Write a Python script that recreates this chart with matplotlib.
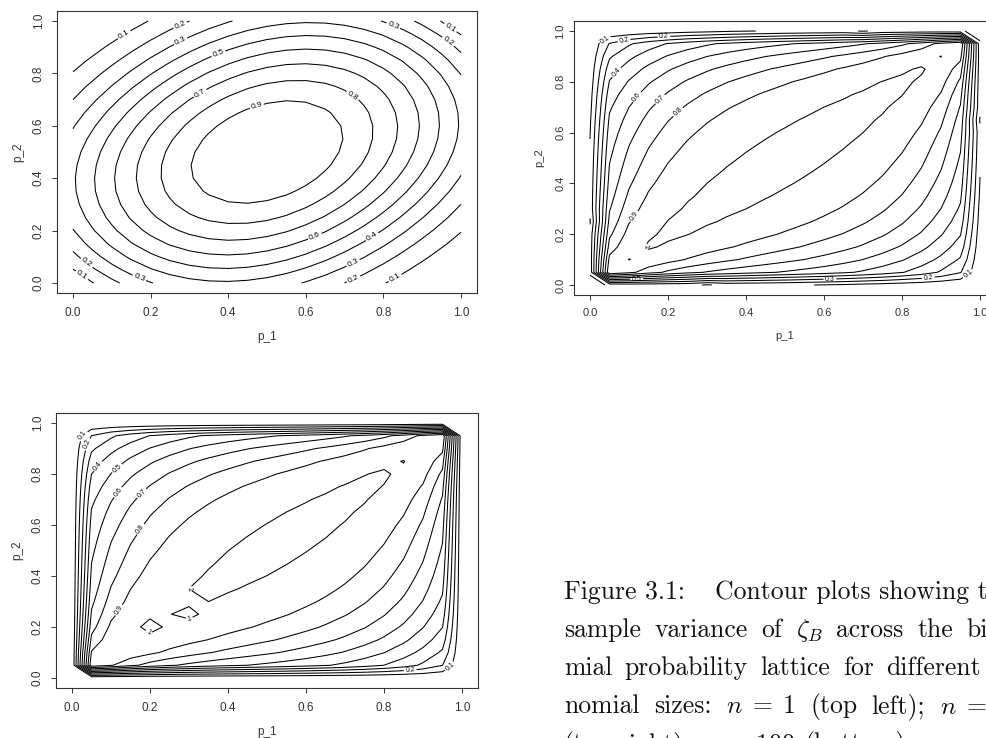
import numpy as np
import matplotlib
matplotlib.use("Agg")
import matplotlib.pyplot as plt

plt.rcParams['font.family'] = ['Liberation Sans', 'DejaVu Sans']
plt.rcParams['mathtext.fontset'] = 'cm'

W, H, DPI = 987, 738, 100

# ---------------- data ----------------
levels_n1 = [0.1, 0.2, 0.3, 0.4, 0.5, 0.6, 0.7, 0.8, 0.9]
levels_n10 = [0.1, 0.2, 0.3, 0.4, 0.5, 0.6, 0.7, 0.8, 0.9, 1.0]
levels_n100 = [0.1, 0.2, 0.3, 0.4, 0.5, 0.6, 0.7, 0.8, 0.9, 1.0]
tick_values = [0.0, 0.2, 0.4, 0.6, 0.8, 1.0]
tick_labels = ["0.0", "0.2", "0.4", "0.6", "0.8", "1.0"]
grid_p = np.linspace(0.0, 1.0, 21)          # probability lattice (step 0.05)

# top-left panel (n = 1): points read on the drawn contours (p_1, p_2, level)
n1_p1 = [0.026, 0.051, 0.09, 0.237, 0.276, 0.344,
         0.091, 0.14, 0.175, 0.245, 0.29, 0.39,
         0.018, 0.065, 0.113, 0.165, 0.23, 0.306,
         0.0, 0.0, 0.0, 0.0, 0.0, 0.0,
         0.129, 0.276, 0.276, 0.374, 0.327, 0.474, 0.722, 0.624, 0.773,
         0.722, 0.722, 0.83, 0.031, 0.023, 0.172, 0.5]
n1_p2 = [0.026, 0.051, 0.09, 0.237, 0.276, 0.344,
         0.909, 0.86, 0.825, 0.755, 0.71, 0.61,
         0.5, 0.5, 0.5, 0.5, 0.5, 0.5,
         0.056, 0.115, 0.22, 0.565, 0.70, 0.81,
         0.954, 0.985, 0.927, 0.878, 0.725, 0.672, 0.718, 0.176, 0.172,
         0.076, 0.019, 0.019, 0.069, 0.03, 0.024, 0.5]
n1_val = [0.1, 0.2, 0.3, 0.7, 0.8, 0.9,
          0.1, 0.2, 0.3, 0.5, 0.7, 0.9,
          0.4, 0.5, 0.6, 0.7, 0.8, 0.9,
          0.1, 0.2, 0.3, 0.3, 0.2, 0.1,
          0.1, 0.2, 0.3, 0.5, 0.7, 0.9, 0.8, 0.6, 0.4,
          0.3, 0.2, 0.1, 0.2, 0.1, 0.3, 0.99]

# n = 10 / n = 100 panels: variance-ratio surface parameters
n10_bias = (0.016, 0.50, 0.42)     # amplitude, centre, half-width of the >1 ridge
n100_bias = (0.012, 0.57, 0.30)
shrink_slope = 2.6                 # extra drop near the corners

# n = 10 lattice edges (values at p = 0, 0.05, ..., 1 along each side)
n10_left = [0, 0.13, 0.14, 0.14, 0.135, 0.09, 0.13, 0.13, 0.125, 0.12, 0.115,
            0.105, 0.095, 0.085, 0.07, 0.06, 0.045, 0.035, 0.02, 0.01, 0]      # p_1 = 0
n10_bottom = [0, 0.13, 0.14, 0.14, 0.135, 0.13, 0.09, 0.13, 0.125, 0.12, 0.115,
              0.105, 0.095, 0.085, 0.07, 0.06, 0.045, 0.035, 0.02, 0.01, 0]    # p_2 = 0
n10_right = [0, 0.01, 0.02, 0.035, 0.045, 0.06, 0.07, 0.085, 0.095, 0.105, 0.115,
             0.12, 0.125, 0.09, 0.13, 0.13, 0.135, 0.14, 0.14, 0.13, 0]        # p_1 = 1
n10_top = [0, 0.01, 0.02, 0.035, 0.045, 0.06, 0.07, 0.085, 0.095, 0.105, 0.115,
           0.12, 0.125, 0.13, 0.09, 0.13, 0.135, 0.14, 0.14, 0.13, 0]          # p_2 = 1

# small closed islands / dips seen in the n = 100 panel: (p_1, p_2, value)
n100_spots = [(0.20, 0.20, 1.02), (0.30, 0.25, 1.015), (0.30, 0.30, 0.99)]

# contour label positions (p_1, p_2)
n1_lab = [(0.129, 0.954), (0.276, 0.985), (0.276, 0.927), (0.374, 0.878),
          (0.327, 0.725), (0.474, 0.672), (0.722, 0.718), (0.825, 0.981),
          (0.972, 0.973), (0.966, 0.92), (0.624, 0.176), (0.773, 0.172),
          (0.722, 0.076), (0.722, 0.019), (0.83, 0.019), (0.031, 0.069),
          (0.023, 0.03), (0.172, 0.024)]
n10_lab = [(0.036, 0.972), (0.087, 0.965), (0.19, 0.972), (0.082, 0.819),
           (0.131, 0.728), (0.187, 0.72), (0.233, 0.669), (0.115, 0.268),
           (0.123, 0.165), (0.615, 0.028), (0.867, 0.032), (0.974, 0.034),
           (0.12, 0.0225)]
n100_lab = [(0.02, 0.966), (0.042, 0.915), (0.072, 0.824), (0.119, 0.816),
            (0.127, 0.718), (0.183, 0.718), (0.179, 0.58), (0.119, 0.267),
            (0.29, 0.345), (0.20, 0.185), (0.30, 0.235),
            (0.867, 0.032), (0.974, 0.034)]

# caption: (baseline y px, words, justified?)
caption_first = [(564, "Figure 3.1:"), (715, "Contour plots showing the")]
caption_lines = [
    (637, ["sample", "variance", "of", r"$\zeta_B$", "across", "the", "bino-"], True),
    (675, ["mial", "probability", "lattice", "for", "different", "bi-"], True),
    (713, ["nomial", "sizes:", r"$n\;=\;1$", "(top", "left);", r"$n\;=\;10$"], True),
    (751, ["(top", "right);", r"$n\;=\;100$", "(bottom)."], False),
]
caption_y0 = 599
caption_left = 564
caption_extra = 10                 # justified lines run a little past line 1
caption_fs = 18.5

# ---------------- surfaces ----------------
P1, P2 = np.meshgrid(grid_p, grid_p)     # rows: p_2, columns: p_1


def basis(x, y):
    u = x + y - 1.0
    v = y - x
    return np.stack([np.ones_like(u), u ** 2, v ** 2, u ** 4, v ** 4, u ** 2 * v ** 2], axis=-1)


coef, *_ = np.linalg.lstsq(basis(np.array(n1_p1), np.array(n1_p2)), np.array(n1_val), rcond=None)
Z1 = basis(P1, P2) @ coef


def ratio_surface(bias_par, edges=None, spots=()):
    amp, cen, hw = bias_par
    pbar = (P1 + P2) / 2
    w = 4 * pbar * (1 - pbar)
    d = P2 - P1
    with np.errstate(divide='ignore', invalid='ignore'):
        k = 1 + shrink_slope * (1 / w - 1)
        v = 1 + amp * (1 - ((pbar - cen) / hw) ** 2) - d ** 2 / w * k
    v = np.clip(np.nan_to_num(v, nan=0.0), 0, None)
    if edges is None:
        v[:, 0] = v[:, -1] = 0.0
        v[0, :] = v[-1, :] = 0.0
    else:
        left, bottom, right, top = edges
        v[:, 0] = left
        v[:, -1] = right
        v[0, :] = bottom
        v[-1, :] = top
    for sx, sy, val in spots:
        v[int(round(sy / 0.05)), int(round(sx / 0.05))] = val
    return v


Z10 = ratio_surface(n10_bias, (n10_left, n10_bottom, n10_right, n10_top))
Z100 = ratio_surface(n100_bias, None, n100_spots)

# ---------------- drawing ----------------
fig = plt.figure(figsize=(W / DPI, H / DPI), dpi=DPI)


def axes_rect(x0, x1, y1, y0):
    sx = x1 - x0
    sy = y0 - y1
    left = x0 - 0.04 * sx
    top = y1 - 0.04 * sy
    return [left / W, 1 - (top + 1.08 * sy) / H, 1.08 * sx / W, 1.08 * sy / H]


def panel(rect, Z, levels, labpos, labfs, fs, ypad, xpad, ylp, xlp):
    ax = fig.add_axes(rect)
    cs = ax.contour(grid_p, grid_p, Z, levels=levels, colors='black', linewidths=0.75)
    ax.clabel(cs, levels, inline=True, inline_spacing=2, fontsize=labfs,
              fmt=lambda v: f"{v:g}", manual=labpos)
    ax.set_xlim(-0.04, 1.04)
    ax.set_ylim(-0.04, 1.04)
    ax.set_xticks(tick_values)
    ax.set_xticklabels(tick_labels)
    ax.set_yticks(tick_values)
    ax.set_yticklabels(tick_labels, rotation=90, va='center')
    ax.tick_params(direction='out', length=3.6, width=0.7, color='#333333',
                   labelcolor='#333333', labelsize=fs)
    ax.tick_params(axis='x', pad=xpad)
    ax.tick_params(axis='y', pad=ypad)
    for s in ax.spines.values():
        s.set_color('#333333')
        s.set_linewidth(0.8)
    ax.set_xlabel('p_1', fontsize=fs, color='#333333', labelpad=xlp)
    ax.set_ylabel('p_2', fontsize=fs, color='#333333', labelpad=ylp)
    return ax


panel(axes_rect(73, 461, 21, 283), Z1, levels_n1, n1_lab, 6.0, 8.5, 5.5, 6.0, 6.0, 9.0)
panel(axes_rect(590, 980, 31, 285), Z10, levels_n10, n10_lab, 5.0, 8.0, 3.0, 6.0, 8.0, 9.0)
panel(axes_rect(72, 462, 423, 678), Z100, levels_n100, n100_lab, 5.0, 8.5, 5.5, 6.0, 6.0, 9.0)

# ---- caption (justified like the LaTeX original) ----
renderer = fig.canvas.get_renderer()


def ctext(xpix, ypix, s):
    return fig.text(xpix / W, 1 - ypix / H, s, fontsize=caption_fs, family='cmr10',
                    ha='left', va='baseline', color='#111111')


first = [ctext(x, caption_y0, s) for x, s in caption_first]
right_edge = caption_first[-1][0] + first[-1].get_window_extent(renderer).width + caption_extra
space_w = 0.333 * caption_fs * DPI / 72.0

for base_y, words, justify in caption_lines:
    objs = [ctext(caption_left, base_y, w) for w in words]
    widths = [o.get_window_extent(renderer).width for o in objs]
    if justify:
        gap = (right_edge - caption_left - sum(widths)) / (len(words) - 1)
    else:
        gap = space_w
    x = caption_left
    for o, wd in zip(objs, widths):
        o.set_x(x / W)
        x += wd + gap

fig.savefig("out.png", dpi=DPI)
